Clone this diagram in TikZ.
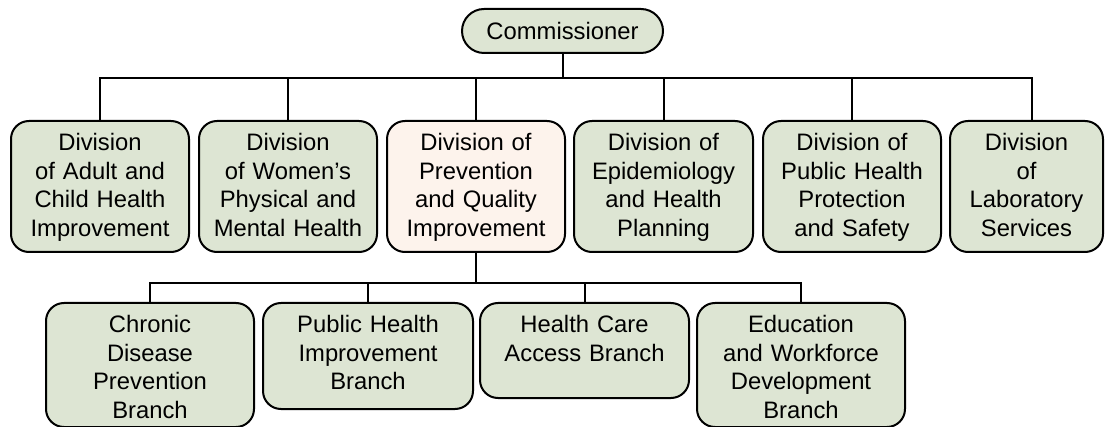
\documentclass[tikz,border=0pt]{standalone}
\usepackage{fontspec}
\setmainfont{Liberation Sans}
\definecolor{divgreen}{RGB}{221,229,211}
\definecolor{divpeach}{RGB}{253,243,236}
\begin{document}
\begin{tikzpicture}[x=1pt,y=-1pt,
  box/.style={draw=black, line width=2pt, fill=divgreen, rounded corners=18pt,
    inner sep=0pt, align=center, anchor=north west, text height=29.5pt,
    font=\fontsize{23.8}{28.6}\selectfont},
  topbox/.style={box, text depth=101.5pt},
  pill/.style={draw=black, line width=2pt, fill=divgreen, rounded corners=22pt,
    inner sep=0pt, minimum width=201pt, minimum height=44pt,
    font=\fontsize{23.8}{28.6}\selectfont},
  conn/.style={draw=black, line width=2pt}]
\useasboundingbox (0,0) rectangle (1105,427);
% top
\node[pill] (comm) at (562.5,31) {Commissioner};
% divisions
\node[topbox, text width=178pt] (d1) at (10,120) {Division\\of Adult and\\Child Health\\Improvement};
\node[topbox, text width=178pt] (d2) at (198,120) {Division\\of Women’s\\Physical and\\Mental Health};
\node[topbox, text width=178pt, fill=divpeach] (d3) at (386,120) {Division of\\Prevention\\and Quality\\Improvement};
\node[topbox, text width=179pt] (d4) at (573,120) {Division of\\Epidemiology\\and Health\\Planning};
\node[topbox, text width=178pt] (d5) at (762,120) {Division of\\Public Health\\Protection\\and Safety};
\node[topbox, text width=153pt] (d6) at (949,120) {Division\\of\\Laboratory\\Services};
% branches
\node[box, text width=208pt, text depth=94.5pt] (b1) at (45,302) {Chronic\\Disease\\Prevention\\Branch};
\node[box, text width=210pt, text depth=76.5pt] (b2) at (262,302) {Public Health\\Improvement\\Branch};
\node[box, text width=209pt, text depth=65.5pt] (b3) at (479,302) {Health Care\\Access Branch};
\node[box, text width=208pt, text depth=94.5pt] (b4) at (696,302) {Education\\and Workforce\\Development\\Branch};
% connectors
\coordinate (bar) at (comm.south |- 0,78);
\coordinate (d6in) at (1032,120);
\draw[conn] (comm.south) -- (bar);
\draw[conn] (bar) -| (d1.north);
\draw[conn] (bar) -| (d2.north);
\draw[conn] (bar) -| (d3.north);
\draw[conn] (bar) -| (d4.north);
\draw[conn] (bar) -| (d5.north);
\draw[conn] (bar) -| (d6in);
\coordinate (bar2) at (d3.south |- 0,283);
\draw[conn] (d3.south) -- (bar2);
\draw[conn] (bar2) -| (b1.north);
\draw[conn] (bar2) -| (b2.north);
\draw[conn] (bar2) -| (b3.north);
\draw[conn] (bar2) -| (b4.north);
\end{tikzpicture}
\end{document}
